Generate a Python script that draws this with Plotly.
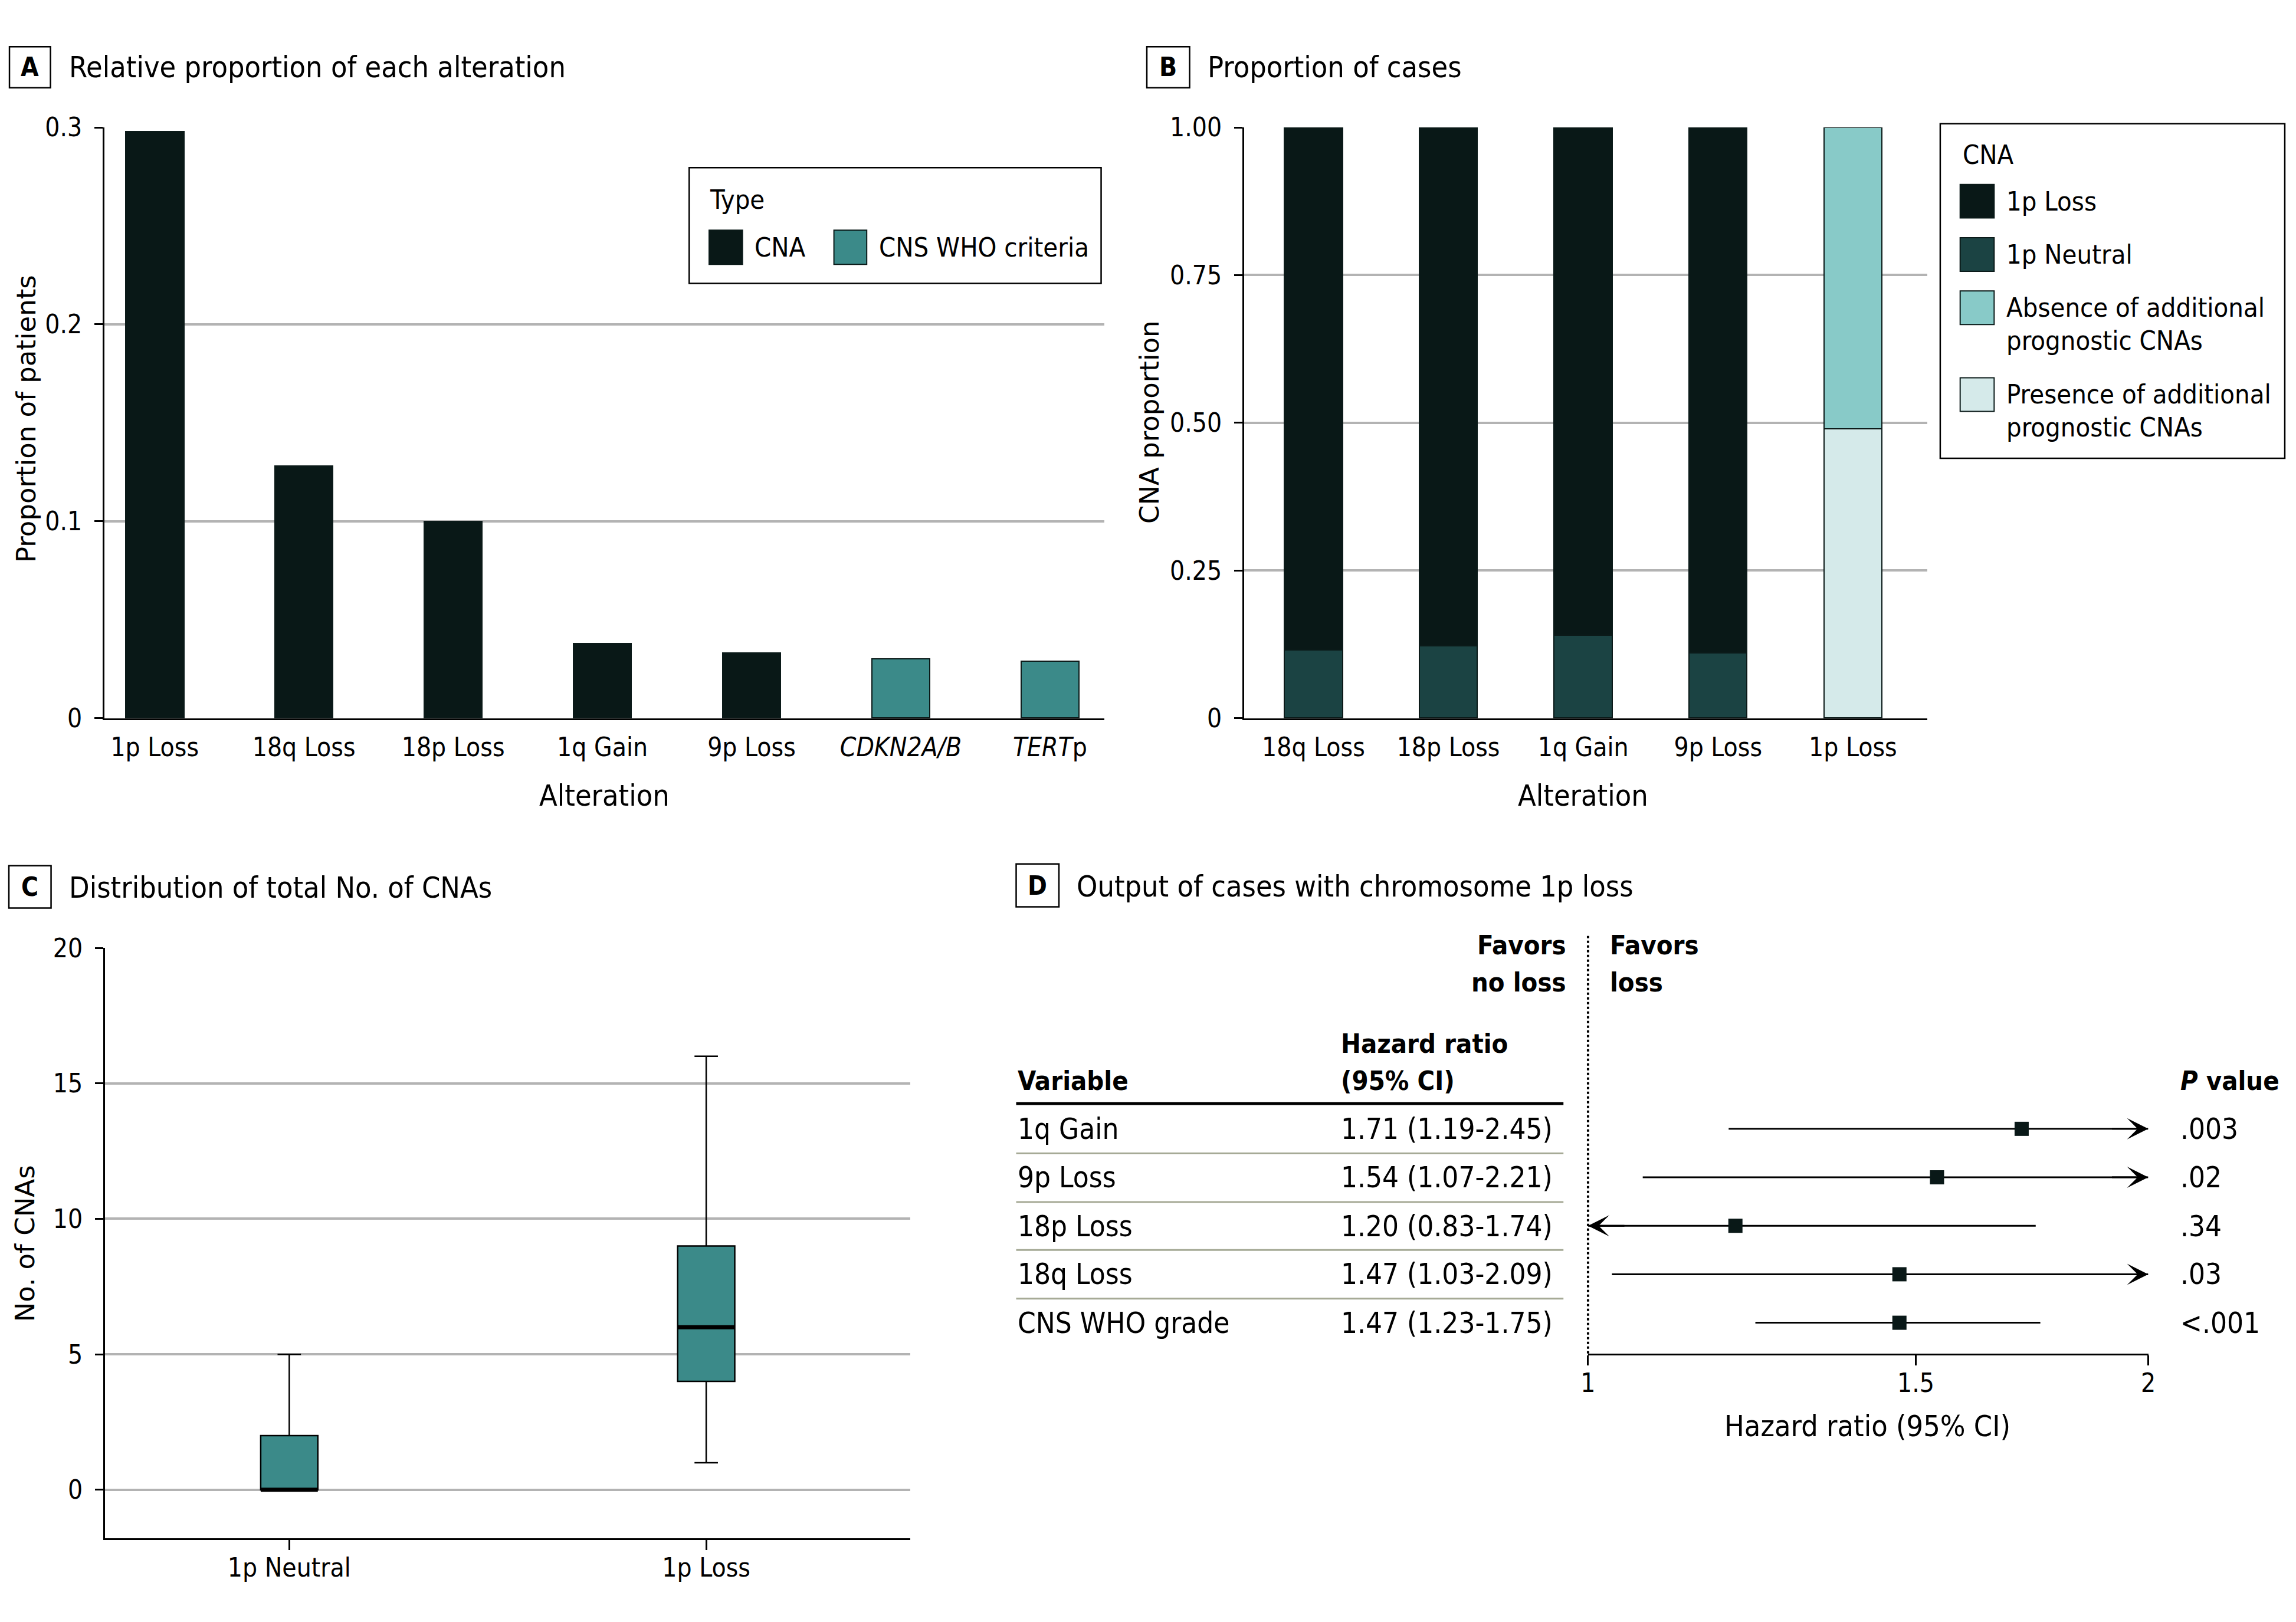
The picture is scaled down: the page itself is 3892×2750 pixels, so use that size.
import numpy as np
import plotly.graph_objects as go

W, H = 3892, 2750
OFF = 8  # default body margin of the html page

# ---------------- data ----------------
# Panel A
a_categories = ["1p Loss", "18q Loss", "18p Loss", "1q Gain", "9p Loss", "CDKN2A/B", "TERTp"]
a_tick_labels = ["1p Loss", "18q Loss", "18p Loss", "1q Gain", "9p Loss", "<i>CDKN2A/B</i>", "<i>TERT</i>p"]
a_cna_categories = ["1p Loss", "18q Loss", "18p Loss", "1q Gain", "9p Loss"]
a_cna_values = [0.298, 0.128, 0.100, 0.038, 0.033]
a_who_categories = ["CDKN2A/B", "TERTp"]
a_who_values = [0.030, 0.029]
a_yticks = [0, 0.1, 0.2, 0.3]
a_ytick_labels = ["0", "0.1", "0.2", "0.3"]

# Panel B
b_categories = ["18q Loss", "18p Loss", "1q Gain", "9p Loss", "1p Loss"]
b_cna_categories = ["18q Loss", "18p Loss", "1q Gain", "9p Loss"]
b_neutral = [0.115, 0.122, 0.140, 0.110]
b_loss = [0.885, 0.878, 0.860, 0.890]
b_1p_category = ["1p Loss"]
b_presence = [0.49]
b_absence = [0.51]
b_yticks = [0, 0.25, 0.5, 0.75, 1.0]
b_ytick_labels = ["0", "0.25", "0.50", "0.75", "1.00"]

# Panel C
c_groups = ["1p Neutral", "1p Loss"]
c_lowerfence = [0, 1]
c_q1 = [0, 4]
c_median = [0, 6]
c_q3 = [2, 9]
c_upperfence = [5, 16]
c_yticks = [0, 5, 10, 15, 20]

# Panel D
d_variables = ["1q Gain", "9p Loss", "18p Loss", "18q Loss", "CNS WHO grade"]
d_hr = [1.71, 1.54, 1.20, 1.47, 1.47]
d_lo = [1.19, 1.07, 0.83, 1.03, 1.23]
d_hi = [2.45, 2.21, 1.74, 2.09, 1.75]
d_p = [".003", ".02", ".34", ".03", "<.001"]
d_xticks = [1, 1.5, 2]
d_xtick_labels = ["1", "1.5", "2"]

# ---------------- style ----------------
FONT = "Liberation Sans Narrow, DejaVu Sans Condensed, Roboto Condensed, Roboto, sans-serif"
YFONT = "DejaVu Sans, Verdana, sans-serif"
FS_TICK = 44
FS_LEG = 45
FS_TITLE = 50
FS_ROW = 49
FS_BOLD = 45
FS_YT = 45
C_DARK = "#091817"
C_NEUTRAL = "#1b4343"
C_ABS = "#88cac8"
C_PRES = "#d5eaea"
C_TEAL = "#3b8a89"
C_GRID = "#b3b3b3"
C_OUT = "#0b1a19"
C_SEP = "#a6aa96"

FW, FH = W - 2 * OFF, H - 2 * OFF


def X(px):
    return (px - OFF) / FW


def Y(py):
    return 1 - (py - OFF) / FH


fig = go.Figure()

# ---------------- Panel A ----------------
A_BAR_W = 0.39
fig.add_trace(go.Bar(x=a_cna_categories, y=a_cna_values, width=A_BAR_W, name="CNA",
                     marker=dict(color=C_DARK, line=dict(color=C_OUT, width=2)),
                     xaxis="x", yaxis="y", showlegend=False))
fig.add_trace(go.Bar(x=a_who_categories, y=a_who_values, width=A_BAR_W, name="CNS WHO criteria",
                     marker=dict(color=C_TEAL, line=dict(color=C_OUT, width=2)),
                     xaxis="x", yaxis="y", showlegend=False))

# ---------------- Panel B ----------------
B_BAR_W = 0.43
fig.add_trace(go.Bar(x=b_cna_categories, y=b_neutral, width=B_BAR_W, name="1p Neutral",
                     marker=dict(color=C_NEUTRAL, line=dict(color=C_OUT, width=2)),
                     xaxis="x2", yaxis="y2", showlegend=False))
fig.add_trace(go.Bar(x=b_cna_categories, y=b_loss, width=B_BAR_W, name="1p Loss",
                     marker=dict(color=C_DARK, line=dict(color=C_OUT, width=2)),
                     xaxis="x2", yaxis="y2", showlegend=False))
fig.add_trace(go.Bar(x=b_1p_category, y=b_presence, width=B_BAR_W, name="Presence of additional prognostic CNAs",
                     marker=dict(color=C_PRES, line=dict(color=C_OUT, width=2)),
                     xaxis="x2", yaxis="y2", showlegend=False))
fig.add_trace(go.Bar(x=b_1p_category, y=b_absence, width=B_BAR_W, name="Absence of additional prognostic CNAs",
                     marker=dict(color=C_ABS, line=dict(color=C_OUT, width=2)),
                     xaxis="x2", yaxis="y2", showlegend=False))

# ---------------- Panel C ----------------
C_BOX_W = 0.137
for i, g in enumerate(c_groups):
    fig.add_trace(go.Box(x=[i], q1=[c_q1[i]], median=[c_median[i]], q3=[c_q3[i]],
                         lowerfence=[c_lowerfence[i]], upperfence=[c_upperfence[i]],
                         width=C_BOX_W, whiskerwidth=0.41, fillcolor=C_TEAL,
                         line=dict(color="black", width=2.5), boxpoints=False,
                         name=g, xaxis="x3", yaxis="y3", showlegend=False, hoverinfo="skip"))
mx, my = [], []
for i, m in enumerate(c_median):
    mx += [i - C_BOX_W / 2, i + C_BOX_W / 2, None]
    my += [m, m, None]
fig.add_trace(go.Scatter(x=mx, y=my, mode="lines", line=dict(color="black", width=7),
                         xaxis="x3", yaxis="y3", showlegend=False, hoverinfo="skip"))

# ---------------- Panel D ----------------
D_MIN, D_MAX = d_xticks[0], d_xticks[-1]
d_rows = [-i for i in range(len(d_variables))]
cx, cy = [], []
for lo, hi, r in zip(d_lo, d_hi, d_rows):
    cx += [max(lo, D_MIN), min(hi, D_MAX), None]
    cy += [r, r, None]
fig.add_trace(go.Scatter(x=cx, y=cy, mode="lines", line=dict(color="black", width=3),
                         xaxis="x4", yaxis="y4", showlegend=False, hoverinfo="skip"))
fig.add_trace(go.Scatter(x=d_hr, y=d_rows, mode="markers",
                         marker=dict(symbol="square", size=24, color=C_DARK),
                         xaxis="x4", yaxis="y4", showlegend=False))

annotations = []
shapes = []

# arrows for clipped CIs
for lo, hi, r in zip(d_lo, d_hi, d_rows):
    if hi > D_MAX:
        annotations.append(dict(x=np.log10(D_MAX), y=r, ax=np.log10(D_MAX) - 0.02, ay=r,
                                xref="x4", yref="y4", axref="x4", ayref="y4", text="",
                                showarrow=True, arrowhead=3, arrowsize=2.0, arrowwidth=3,
                                arrowcolor="black", standoff=0))
    if lo < D_MIN:
        annotations.append(dict(x=np.log10(D_MIN), y=r, ax=np.log10(D_MIN) + 0.02, ay=r,
                                xref="x4", yref="y4", axref="x4", ayref="y4", text="",
                                showarrow=True, arrowhead=3, arrowsize=2.0, arrowwidth=3,
                                arrowcolor="black", standoff=0))


def txt(text, x, y, size=FS_TITLE, xanchor="left", family=FONT, color="black", **kw):
    annotations.append(dict(text=text, x=X(x), y=Y(y), xref="paper", yref="paper",
                            xanchor=xanchor, yanchor="middle", showarrow=False,
                            font=dict(family=family, size=size, color=color), **kw))


def rect(x0, y0, x1, y1, fill="rgba(0,0,0,0)", lc="black", lw=2.5):
    shapes.append(dict(type="rect", xref="paper", yref="paper", x0=X(x0), x1=X(x1),
                       y0=Y(y1), y1=Y(y0), fillcolor=fill, line=dict(color=lc, width=lw)))


def hline(x0, x1, y, lc="black", lw=2, dash="solid"):
    shapes.append(dict(type="line", xref="paper", yref="paper", x0=X(x0), x1=X(x1),
                       y0=Y(y), y1=Y(y), line=dict(color=lc, width=lw, dash=dash)))


# dotted reference line at HR = 1 (left edge of the forest axis)
D_LEFT, D_RIGHT, D_TOP, D_BOTTOM = 2697, 3653, 1588, 2311.7
shapes.append(dict(type="line", xref="paper", yref="paper", x0=X(D_LEFT), x1=X(D_LEFT),
                   y0=Y(D_BOTTOM), y1=Y(D_TOP), line=dict(color="black", width=4, dash="dot")))

# panel labels and titles
for letter, bx0, by0, bx1, by1, title, tx, ty in [
    ("A", 3, 54, 73, 125, "Relative proportion of each alteration", 103, 90),
    ("B", 1944, 54, 2017, 125, "Proportion of cases", 2046, 90),
    ("C", 2, 1469, 74, 1542, "Distribution of total No. of CNAs", 103, 1507),
    ("D", 1721, 1466, 1794, 1540, "Output of cases with chromosome 1p loss", 1822, 1505),
]:
    rect(bx0, by0, bx1, by1, lw=2.5)
    txt("<b>%s</b>" % letter, (bx0 + bx1) / 2, (by0 + by1) / 2, size=44, xanchor="center")
    txt(title, tx, ty, size=FS_TITLE)

# axis titles
txt("Alteration", 1018, 1348, size=FS_TITLE, xanchor="center")
txt("Alteration", 2688, 1348, size=FS_TITLE, xanchor="center")
txt("Proportion of patients", 31, 697, size=FS_YT, xanchor="center", family=YFONT, textangle=-90)
txt("CNA proportion", 1948, 702, size=FS_YT, xanchor="center", family=YFONT, textangle=-90)
txt("No. of CNAs", 30, 2122, size=FS_YT, xanchor="center", family=YFONT, textangle=-90)
txt("Hazard ratio (95% CI)", 3174, 2437, size=FS_TITLE, xanchor="center")

# legend A
rect(1163, 263, 1866, 463, lw=2.5)
txt("Type", 1196, 318, size=FS_LEG)
rect(1197, 371, 1254, 430, fill=C_DARK, lc=C_OUT, lw=2)
txt("CNA", 1272, 401, size=FS_LEG)
rect(1410, 371, 1466, 430, fill=C_TEAL, lc=C_OUT, lw=2)
txt("CNS WHO criteria", 1485, 401, size=FS_LEG)

# legend B
rect(3298, 187, 3886, 765, lw=2.5)
txt("CNA", 3334, 241, size=FS_LEG)
leg_b = [
    (C_DARK, 292, ["1p Loss"]),
    (C_NEUTRAL, 384, ["1p Neutral"]),
    (C_ABS, 476, ["Absence of additional", "prognostic CNAs"]),
    (C_PRES, 626, ["Presence of additional", "prognostic CNAs"]),
]
for col, top, lines in leg_b:
    rect(3332, top, 3390, top + 58, fill=col, lc=C_OUT, lw=2)
    txt(lines[0], 3409, top + 29, size=FS_LEG)
    if len(lines) > 1:
        txt(lines[1], 3409, top + 86, size=FS_LEG)

# forest table
txt("<b>Favors</b>", 2662, 1606, size=FS_BOLD, xanchor="right")
txt("<b>no loss</b>", 2662, 1671, size=FS_BOLD, xanchor="right")
txt("<b>Favors</b>", 2732, 1606, size=FS_BOLD)
txt("<b>loss</b>", 2732, 1671, size=FS_BOLD)
txt("<b>Hazard ratio</b>", 2273, 1776, size=FS_BOLD)
txt("<b>(95% CI)</b>", 2273, 1841, size=FS_BOLD)
txt("<b>Variable</b>", 1721, 1841, size=FS_BOLD)
txt("<b><i>P</i> value</b>", 3706, 1841, size=FS_BOLD)
hline(1721, 2655, 1880, lw=5)
row_px = [1924, 2008, 2092, 2175, 2259]
sep_px = [1966, 2050, 2133, 2217]
for s in sep_px:
    hline(1721, 2655, s, lc=C_SEP, lw=3)
for v, hr, lo, hi, p, yy in zip(d_variables, d_hr, d_lo, d_hi, d_p, row_px):
    txt(v, 1721, yy, size=FS_ROW)
    txt("%.2f (%.2f-%.2f)" % (hr, lo, hi), 2273, yy, size=FS_ROW)
    txt(p, 3706, yy, size=FS_ROW)

tickfont = dict(family=FONT, size=FS_TICK, color="black")
axis_common = dict(showline=True, linecolor="black", linewidth=3, zeroline=False,
                   tickfont=tickfont, tickcolor="black", tickwidth=3)

fig.update_layout(
    width=FW, height=FH, margin=dict(l=0, r=0, t=0, b=0, pad=0),
    paper_bgcolor="white", plot_bgcolor="white",
    barmode="stack", showlegend=False,
    font=dict(family=FONT, size=FS_TICK, color="black"),
    xaxis=dict(domain=[X(165), X(1872)], anchor="y", type="category",
               categoryorder="array", categoryarray=a_categories,
               tickvals=a_categories, ticktext=a_tick_labels,
               range=[-0.337, 6.366], ticks="", showgrid=False, ticklabelstandoff=9,
               **axis_common),
    yaxis=dict(domain=[Y(1214), Y(193.5)], anchor="x", range=[0, 0.3],
               tickvals=a_yticks, ticktext=a_ytick_labels, showgrid=True,
               gridcolor=C_GRID, gridwidth=4, ticks="outside", ticklen=14,
               ticklabelstandoff=12, **axis_common),
    xaxis2=dict(domain=[X(2110), X(3276)], anchor="y2", type="category",
                categoryorder="array", categoryarray=b_categories,
                range=[-0.514, 4.552], ticks="", showgrid=False, ticklabelstandoff=9,
                **axis_common),
    yaxis2=dict(domain=[Y(1214), Y(193.5)], anchor="x2", range=[0, 1.0],
                tickvals=b_yticks, ticktext=b_ytick_labels, showgrid=True,
                gridcolor=C_GRID, gridwidth=4, ticks="outside", ticklen=14,
                ticklabelstandoff=12, **axis_common),
    xaxis3=dict(domain=[X(166), X(1540)], anchor="y3", range=[-0.442, 1.489],
                tickvals=list(range(len(c_groups))), ticktext=c_groups,
                ticks="outside", ticklen=17, showgrid=False, ticklabelstandoff=-8,
                **axis_common),
    yaxis3=dict(domain=[Y(2631), Y(1611)], anchor="x3", range=[-1.79, 20],
                tickvals=c_yticks, showgrid=True, gridcolor=C_GRID, gridwidth=4,
                ticks="outside", ticklen=14, ticklabelstandoff=12, **axis_common),
    xaxis4=dict(domain=[X(D_LEFT), X(D_RIGHT)], anchor="y4", type="log",
                range=[np.log10(D_MIN), np.log10(D_MAX)],
                tickvals=d_xticks, ticktext=d_xtick_labels, ticks="outside", ticklen=17,
                showgrid=False, ticklabelstandoff=-8, **axis_common),
    yaxis4=dict(domain=[Y(D_BOTTOM), Y(D_TOP)], anchor="x4", range=[-4.634, 4.007],
                visible=False),
    annotations=annotations,
    shapes=shapes,
)

fig.write_html("out.html")
